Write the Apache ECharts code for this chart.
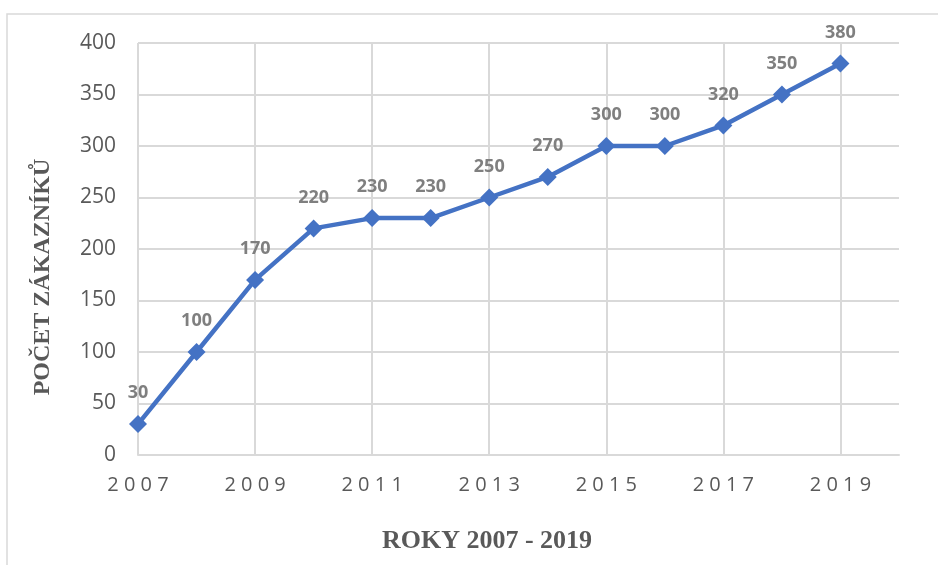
<!DOCTYPE html>
<html>
<head>
<meta charset="utf-8">
<script src="https://cdn.jsdelivr.net/npm/echarts@6/dist/echarts.min.js"></script>
<style>
    html, body { margin: 0; padding: 0; background: #fff; }
    #main { width: 938px; height: 565px; }
</style>
</head>
<body>
<div id="main"></div>
<script>
var years = [2007, 2008, 2009, 2010, 2011, 2012, 2013, 2014, 2015, 2016, 2017, 2018, 2019];
var customers = [30, 100, 170, 220, 230, 230, 250, 270, 300, 300, 320, 350, 380];
var xTitle = 'ROKY 2007 - 2019';
var yTitle = 'POČET ZÁKAZNÍKŮ';

function chart() {
    var myChart = echarts.init(document.getElementById('main'));

    var points = years.map((y, i) => [y, customers[i]]);

    // grid lines at 2007..2019, none at the 2020 edge
    var gridColors = ['#d9d9d9', '#d9d9d9', '#d9d9d9', '#d9d9d9', '#d9d9d9', '#d9d9d9', '#d9d9d9', 'rgba(0,0,0,0)'];

    var option = {
        animation: false,
        grid: { left: 138, right: 39, top: 43, bottom: 110 },
        xAxis: {
            type: 'value',
            min: 2007,
            max: 2020,
            interval: 2,
            axisLine: { show: true, lineStyle: { color: '#d9d9d9', width: 2 } },
            axisTick: { show: false },
            axisLabel: {
                margin: 20,
                fontSize: 20,
                color: '#595959',
                fontFamily: 'Open Sans',
                showMaxLabel: false,
                formatter: v => String(v).split('').join(' ')
            },
            splitLine: { show: true, lineStyle: { color: gridColors, width: 2 } }
        },
        yAxis: {
            type: 'value',
            min: 0,
            max: 400,
            interval: 50,
            axisLine: { show: false },
            axisTick: { show: false },
            axisLabel: { margin: 22, fontSize: 21, color: '#595959', fontFamily: 'Open Sans' },
            splitLine: { lineStyle: { color: '#d9d9d9', width: 2 } }
        },
        graphic: [
            {
                type: 'rect',
                shape: { x: 7, y: 14, width: 960, height: 600 },
                style: { fill: 'none', stroke: '#d9d9d9', lineWidth: 1.5 },
                silent: true
            },
            {
                type: 'text',
                x: 487, y: 541,
                style: {
                    text: xTitle, fill: '#595959',
                    font: 'bold 26px "Liberation Serif"',
                    align: 'center', verticalAlign: 'middle'
                }
            },
            {
                type: 'text',
                x: 43, y: 277,
                rotation: Math.PI / 2,
                style: {
                    text: yTitle, fill: '#595959',
                    font: 'bold 24px "Liberation Serif"',
                    align: 'center', verticalAlign: 'middle'
                }
            }
        ],
        series: [{
            type: 'line',
            data: points,
            symbol: 'diamond',
            symbolSize: 18,
            itemStyle: { color: '#4472c4' },
            lineStyle: { color: '#4472c4', width: 4.5 },
            label: {
                show: true,
                position: 'top',
                distance: 13,
                fontSize: 18,
                fontWeight: 'bold',
                fontFamily: 'Open Sans',
                color: '#7f7f7f',
                formatter: p => p.value[1]
            }
        }]
    };

    myChart.setOption(option);
}

chart();
</script>
</body>
</html>
